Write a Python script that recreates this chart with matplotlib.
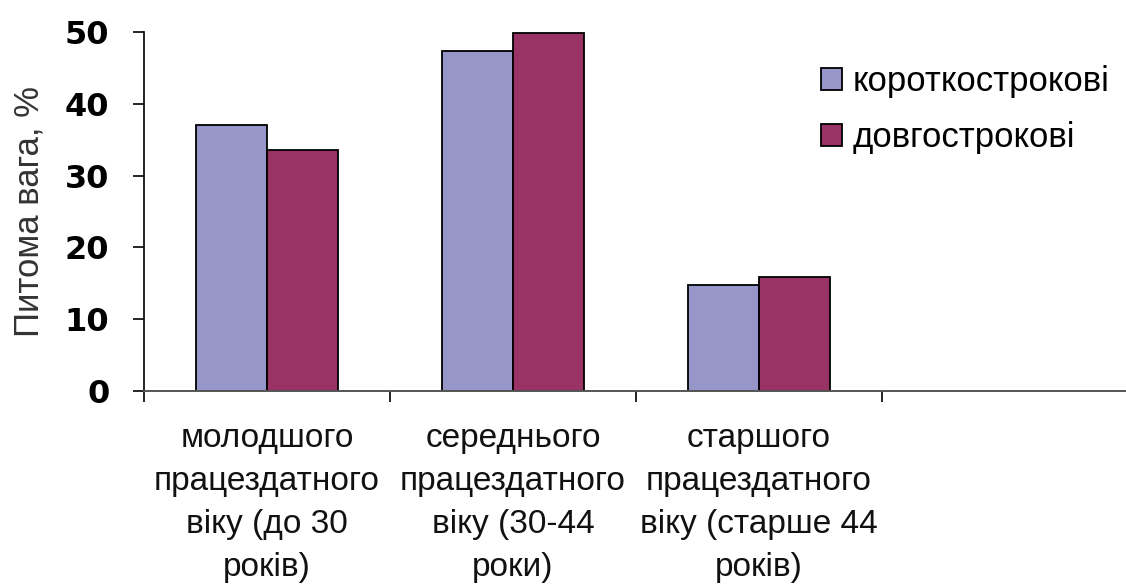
import numpy as np
import matplotlib
matplotlib.use('Agg')
import matplotlib.pyplot as plt
from matplotlib import font_manager

groups = ['молодшого\nпрацездатного\nвіку (до 30\nроків)',
          'середнього\nпрацездатного\nвіку (30-44\nроки)',
          'старшого\nпрацездатного\nвіку (старше 44\nроків)']
series = ['короткострокові', 'довгострокові']
short_term = [37.1, 47.4, 14.8]
long_term = [33.5, 49.9, 15.9]
yticks = [0, 10, 20, 30, 40, 50]

names = {f.name for f in font_manager.fontManager.ttflist}
narrow = 'Liberation Sans Narrow' in names
txt_font = 'Liberation Sans Narrow' if narrow else 'Liberation Sans'
txt_size = 29 if narrow else 25
cat_size = 28 if narrow else 24

fig = plt.figure(figsize=(11.26, 5.84), dpi=100)
ax = fig.add_axes([144/1126, 193/584, 984/1126, 359/584])

x = np.arange(len(groups)) + 0.5
w = 0.29
ax.bar(x - w/2, short_term, w, color='#9696c8', edgecolor='black', linewidth=1.3, label=series[0])
ax.bar(x + w/2, long_term, w, color='#993366', edgecolor='black', linewidth=1.3, label=series[1])

ax.set_xlim(0, 4)
ax.set_ylim(0, 50)
ax.set_yticks(yticks)
ax.set_yticklabels([str(v) for v in yticks], fontfamily='DejaVu Sans', fontweight='bold', fontsize=23)
ax.tick_params(axis='y', length=8, width=1.2, pad=17, direction='out')

# group names sit between the boundary ticks
ax.set_xticks([0, 1, 2, 3])
ax.set_xticklabels([])
ax.set_xticks(x, minor=True)
ax.set_xticklabels(groups, minor=True, fontfamily=txt_font, fontsize=cat_size,
                   linespacing=1.5, color='#111111')
ax.tick_params(axis='x', which='major', length=8, width=1.2)
ax.tick_params(axis='x', which='minor', length=0, pad=23)

for s in ['top', 'right']:
    ax.spines[s].set_visible(False)
ax.spines['left'].set_linewidth(1.2)
ax.spines['bottom'].set_linewidth(1.4)
ax.spines['bottom'].set_color('#555555')

ax.set_ylabel('Питома вага, %', fontfamily=txt_font, fontsize=txt_size, color='#333333', labelpad=14)

fig.legend(loc='upper left', bbox_to_anchor=(0.729, 0.888), bbox_transform=fig.transFigure,
           frameon=False, prop={'family': txt_font, 'size': txt_size},
           handlelength=0.62, handleheight=0.62, handletextpad=0.3, labelspacing=0.66,
           borderpad=0, borderaxespad=0)

fig.savefig('out.png', dpi=100)
